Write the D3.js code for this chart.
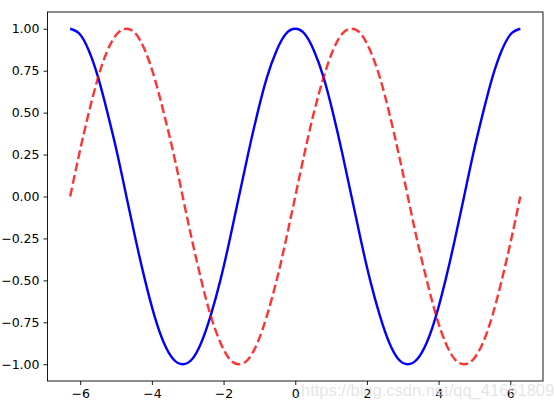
<!DOCTYPE html>
<html><head><meta charset="utf-8">
<script src="https://cdn.jsdelivr.net/npm/d3@7"></script>
<style>body{margin:0;background:#fff}svg{display:block}text{font-family:"DejaVu Sans",sans-serif}</style>
</head><body><svg id="c" width="554" height="409"></svg>
<script>
const xs = [-6.28,-6.02,-5.76,-5.50,-5.24,-4.97,-4.71,-4.45,-4.19,-3.93,-3.67,-3.40,-3.14,-2.88,-2.62,-2.36,-2.09,-1.83,-1.57,-1.31,-1.05,-0.79,-0.52,-0.26,0,
0.26,0.52,0.79,1.05,1.31,1.57,1.83,2.09,2.36,2.62,2.88,3.14,3.40,3.67,3.93,4.19,4.45,4.71,4.97,5.24,5.50,5.76,6.02,6.28];
const cosVals = [1,0.97,0.87,0.71,0.5,0.26,0,-0.26,-0.5,-0.71,-0.87,-0.97,-1,-0.97,-0.87,-0.71,-0.5,-0.26,0,0.26,0.5,0.71,0.87,0.97,1,
0.97,0.87,0.71,0.5,0.26,0,-0.26,-0.5,-0.71,-0.87,-0.97,-1,-0.97,-0.87,-0.71,-0.5,-0.26,0,0.26,0.5,0.71,0.87,0.97,1];
const sinVals = [0,0.26,0.5,0.71,0.87,0.97,1,0.97,0.87,0.71,0.5,0.26,0,-0.26,-0.5,-0.71,-0.87,-0.97,-1,-0.97,-0.87,-0.71,-0.5,-0.26,0,
0.26,0.5,0.71,0.87,0.97,1,0.97,0.87,0.71,0.5,0.26,0,-0.26,-0.5,-0.71,-0.87,-0.97,-1,-0.97,-0.87,-0.71,-0.5,-0.26,0];
const xTicks = [-6,-4,-2,0,2,4,6];
const yTicks = [-1,-0.75,-0.5,-0.25,0,0.25,0.5,0.75,1];

const L=47.5, R=543, T=12, B=381;
const svg = d3.select("#c");
const x = d3.scaleLinear().domain([-6.912,6.912]).range([L,R]);
const y = d3.scaleLinear().domain([-1.1,1.1]).range([B,T]);

const line = (vals)=>d3.line().x((d,i)=>x(xs[i])).y(d=>y(d)).curve(d3.curveNatural)(vals);
svg.append("path").attr("d",line(cosVals)).attr("fill","none").attr("stroke","#0000ff").attr("stroke-width",2.4).attr("stroke-linecap","butt");
svg.append("path").attr("d",line(sinVals)).attr("fill","none").attr("stroke","rgba(255,0,0,0.8)").attr("stroke-width",2.4).attr("stroke-dasharray","8.9,3.85");

const xa = svg.append("g").attr("transform",`translate(0,${B})`).call(d3.axisBottom(x).tickValues(xTicks).tickSize(4).tickPadding(4).tickFormat(d=>d<0?"\u2212"+Math.abs(d):d));
const ya = svg.append("g").attr("transform",`translate(${L},0)`).call(d3.axisLeft(y).tickValues(yTicks).tickSize(4).tickPadding(4).tickFormat(d=>(d<0?"\u2212":"")+Math.abs(d).toFixed(2)));
[xa,ya].forEach(a=>{a.select(".domain").remove();a.selectAll("text").attr("font-size","12.5px").attr("fill","#000").style("font-family","DejaVu Sans");a.selectAll("line").attr("stroke","#000").attr("stroke-width",0.9);});
svg.append("rect").attr("x",L).attr("y",T).attr("width",R-L).attr("height",B-T).attr("fill","none").attr("stroke","#000").attr("stroke-width",0.9);

svg.append("text").attr("x",301).attr("y",396).attr("font-size","16.5px").attr("fill","rgba(220,220,220,0.75)").style("font-family","Arial, Liberation Sans, sans-serif").text("https://blog.csdn.net/qq_41661809");
</script></body></html>
